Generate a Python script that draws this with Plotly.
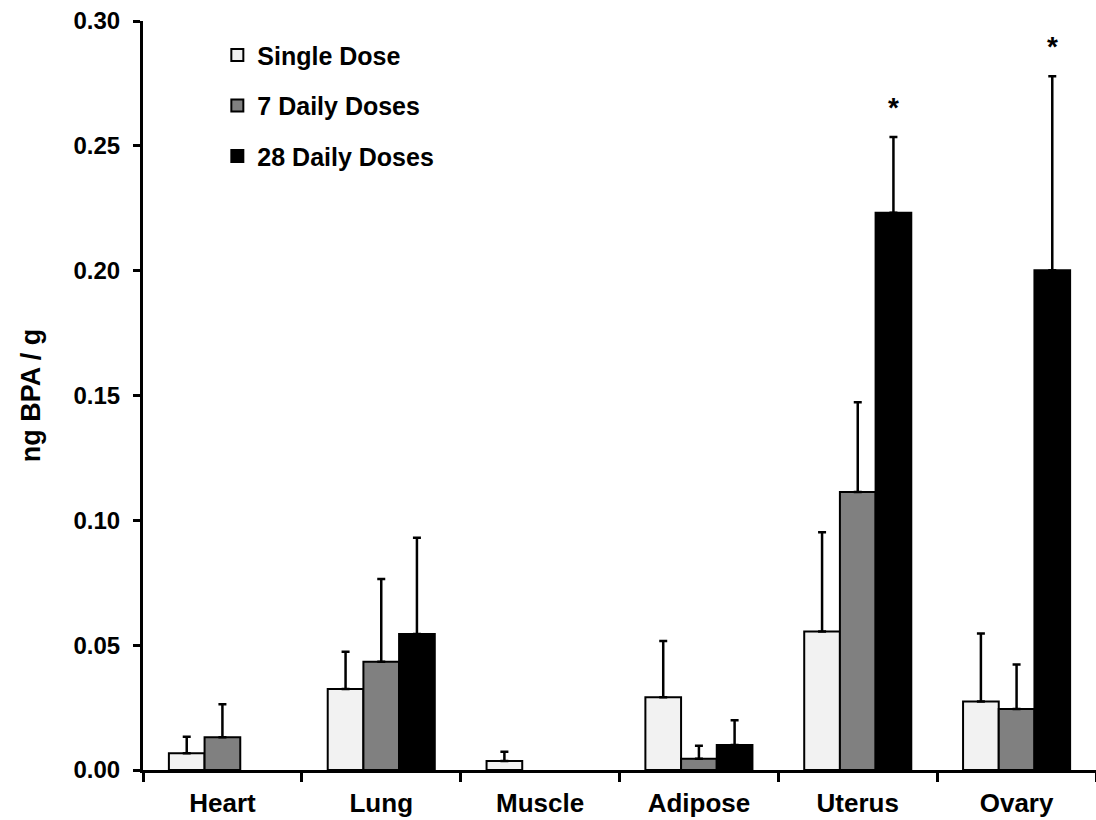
import plotly.graph_objects as go

categories = ["Heart", "Lung", "Muscle", "Adipose", "Uterus", "Ovary"]
series_names = ["Single Dose", "7 Daily Doses", "28 Daily Doses"]

single_dose = [0.0067, 0.0324, 0.0036, 0.0291, 0.0555, 0.0274]
single_err = [0.0066, 0.0150, 0.0037, 0.0226, 0.0397, 0.0273]

daily7 = [0.0131, 0.0434, None, 0.0045, 0.1113, 0.0244]
daily7_err = [0.0132, 0.0331, None, 0.0052, 0.0360, 0.0179]

daily28 = [None, 0.0545, None, 0.0100, 0.2232, 0.2002]
daily28_err = [None, 0.0385, None, 0.0099, 0.0303, 0.0777]

# significance markers for the 28 Daily Doses series
significant28 = [False, False, False, False, True, True]

y_ticks = [0.00, 0.05, 0.10, 0.15, 0.20, 0.25, 0.30]

colors = ["#F2F2F2", "#808080", "#000000"]
FONT = "Liberation Sans, Arial, sans-serif"
BARGAP = 0.326

fig = go.Figure()
all_vals = [single_dose, daily7, daily28]
all_errs = [single_err, daily7_err, daily28_err]
for i, (name, vals, errs, col) in enumerate(zip(series_names, all_vals, all_errs, colors)):
    fig.add_trace(go.Bar(
        name=name,
        x=categories,
        y=vals,
        legendgroup=f"g{i}",
        marker=dict(color=col, line=dict(color="black", width=2)),
        error_y=dict(type="data", array=errs, symmetric=False,
                     arrayminus=[0] * len(errs), color="black",
                     thickness=2.5, width=4),
    ))

# asterisks above significant bars (third bar in each group)
bar_w = (1 - BARGAP) / 3
for idx, sig in enumerate(significant28):
    if sig:
        top = daily28[idx] + daily28_err[idx]
        fig.add_annotation(x=idx + bar_w, y=top, xref="x", yref="y",
                           text="*", showarrow=False, yanchor="middle",
                           yshift=30,
                           font=dict(family=FONT, size=28, color="black", weight="bold"))

fig.update_layout(
    width=1096, height=820,
    margin=dict(l=143, r=0, t=21, b=50),
    paper_bgcolor="white", plot_bgcolor="white",
    barmode="group", bargap=BARGAP, bargroupgap=0,
    font=dict(family=FONT, color="black", weight="bold"),
    showlegend=True,
    legend=dict(x=0.078, y=0.985, xanchor="left", yanchor="top",
                bgcolor="rgba(0,0,0,0)", tracegroupgap=15,
                font=dict(family=FONT, size=25, color="black", weight="bold")),
)
fig.update_xaxes(
    type="category", range=[-0.5, 5.5],
    showline=True, linecolor="black", linewidth=3,
    ticks="outside", tickson="boundaries", ticklen=9, tickwidth=3, tickcolor="black",
    ticklabelstandoff=8,
    tickfont=dict(family=FONT, size=26, color="black", weight="bold"),
    showgrid=False, zeroline=False,
)
fig.update_yaxes(
    range=[0, 0.30], tickvals=y_ticks, ticktext=[f"{v:.2f}" for v in y_ticks],
    showline=True, linecolor="black", linewidth=3,
    ticks="outside", ticklen=7, tickwidth=3, tickcolor="black",
    ticklabelstandoff=8,
    tickfont=dict(family=FONT, size=24, color="black", weight="bold"),
    showgrid=False, zeroline=False,
    title=dict(text="ng BPA / g", standoff=26,
               font=dict(family=FONT, size=27, color="black", weight="bold")),
)

fig.write_html("out.html")
